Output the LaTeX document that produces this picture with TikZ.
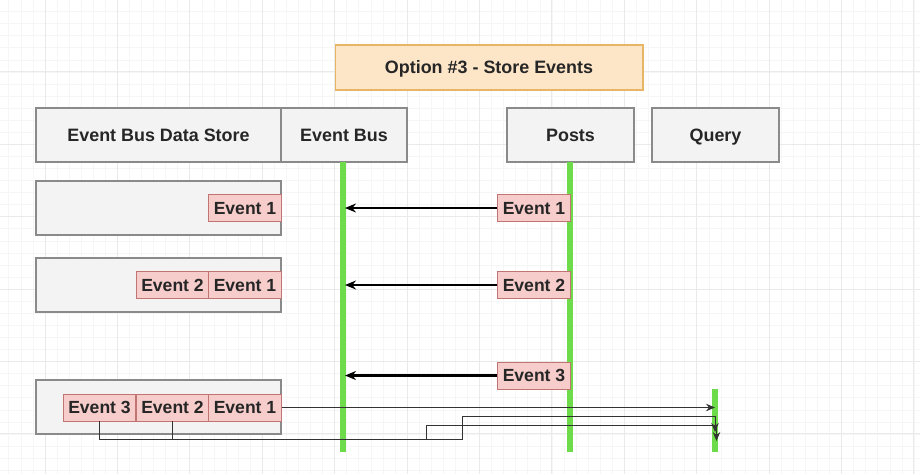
\documentclass[tikz,border=0pt]{standalone}
\usepackage{fontspec}
\setmainfont{Liberation Sans}
\usetikzlibrary{positioning,arrows.meta}

\definecolor{titlefill}{HTML}{FDE5C8}
\definecolor{titleline}{HTML}{E8B466}
\definecolor{boxfill}{HTML}{F3F3F3}
\definecolor{boxline}{HTML}{8A8A8A}
\definecolor{evtfill}{HTML}{F6CDCB}
\definecolor{evtline}{HTML}{C27472}
\definecolor{life}{HTML}{6EDC4A}
\definecolor{gridminor}{HTML}{F6F6F6}
\definecolor{gridmajor}{HTML}{EAEAEA}

\tikzset{
	txt/.style={font=\fontsize{10.2}{12}\selectfont\bfseries, text=black!85, inner sep=0pt, text height=0.72em, text depth=0pt},
	titlebox/.style={txt, draw=titleline, fill=titlefill, line width=0.6pt, minimum width=6.16cm, minimum height=0.9cm},
	hdr/.style={txt, draw=boxline, fill=boxfill, line width=0.6pt, minimum height=1.08cm},
	store/.style={draw=boxline, fill=boxfill, line width=0.6pt, minimum width=4.9cm, minimum height=1.08cm, inner sep=0pt},
	evt/.style={txt, font=\fontsize{10}{12}\selectfont\bfseries, draw=evtline, fill=evtfill, line width=0.5pt, minimum width=1.45cm, minimum height=0.54cm},
	lifeline/.style={life, line width=0.12cm},
	msg/.style={-{Stealth[length=0.22cm, width=0.18cm]}, line width=1.3pt, black},
	wire/.style={-{Stealth[length=0.18cm, width=0.15cm]}, line width=0.55pt, black!80},
}

\begin{document}
\begin{tikzpicture}[x=0.02cm, y=-0.02cm]
	\useasboundingbox (0,0) rectangle (920,474);
	% background grid
	\foreach \i in {0,...,75} {\draw[gridminor, line width=0.4pt] ({8.79+\i*12.07},0) -- ++(0,474);}
	\foreach \i in {0,...,38} {\draw[gridminor, line width=0.4pt] (0,{11.57+\i*12.07}) -- ++(920,0);}
	\foreach \i in {0,...,12} {\draw[gridmajor, line width=0.5pt] ({45+\i*72.4},0) -- ++(0,474);}
	\foreach \i in {0,...,5} {\draw[gridmajor, line width=0.5pt] (0,{71.9+\i*72.4}) -- ++(920,0);}

	% title and headers
	\node[titlebox] (title) at (489,67.5) {Option \#3 - Store Events};
	\node[hdr, minimum width=4.9cm] (dstore) at (158.5,135) {Event Bus Data Store};
	\node[hdr, minimum width=2.52cm] (bus) at (344,135) {Event Bus};
	\node[hdr, minimum width=2.54cm] (posts) at (570.5,135) {Posts};
	\node[hdr, minimum width=2.54cm] (query) at (715.5,135) {Query};

	% lifelines
	\coordinate (busTop) at (343,162);
	\coordinate (busBot) at (343,452);
	\coordinate (postsTop) at (570,162);
	\coordinate (postsBot) at (570,452);
	\coordinate (queryTop) at (715,389);
	\coordinate (queryBot) at (715,452);
	\draw[lifeline] (busTop) -- (busBot);
	\draw[lifeline] (postsTop) -- (postsBot);
	\draw[lifeline] (queryTop) -- (queryBot);

	% data store rows
	\node[store] (row1) at (158.5,208) {};
	\node[store] (row2) at (158.5,285) {};
	\node[store] (row3) at (158.5,407) {};
	\node[evt] (s1e1) at (245,208) {Event 1};
	\node[evt] (s2e2) at (172.5,285) {Event 2};
	\node[evt] (s2e1) at (245,285) {Event 1};
	\node[evt] (s3e3) at (99.5,407.5) {Event 3};
	\node[evt] (s3e2) at (172.5,407.5) {Event 2};
	\node[evt] (s3e1) at (245,407.5) {Event 1};

	% events emitted by posts
	\node[evt] (p1) at (534,208) {Event 1};
	\node[evt] (p2) at (534,285) {Event 2};
	\node[evt] (p3) at (534,375.5) {Event 3};
	\coordinate (b1) at (345,208);
	\coordinate (b2) at (345,285);
	\coordinate (b3) at (345,375.5);
	\draw[msg] (p1.west) -- (b1);
	\draw[msg] (p2.west) -- (b2);
	\draw[msg] (p3.west) -- (b3);

	% replay to query
	\coordinate (q1) at (715,407.5);
	\coordinate (q2) at (715,432);
	\coordinate (q3) at (716.5,441);
	\draw[wire] (s3e1.east) -- (q1);
	\draw[wire] (s3e2.south) |- (462,439) |- (715,416) -- (q2);
	\draw[wire] (s3e3.south) |- (426,439) |- (716.5,425) -- (q3);
\end{tikzpicture}
\end{document}
